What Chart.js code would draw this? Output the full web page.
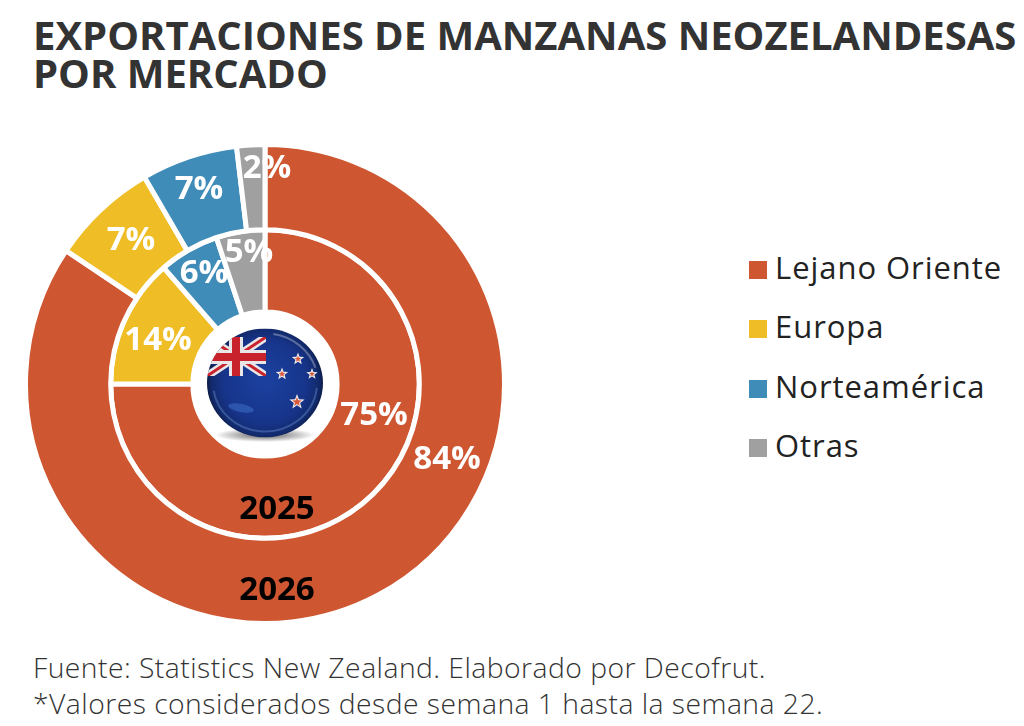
<!DOCTYPE html>
<html lang="es">
<head>
<meta charset="utf-8">
<script src="https://cdn.jsdelivr.net/npm/chart.js@4"></script>
<style>
  html, body { margin: 0; padding: 0; background: #fff; }
  body { width: 1024px; height: 726px; position: relative; overflow: hidden; font-family: "Open Sans", sans-serif; }
  h1 { position: absolute; left: 33px; top: 16px; margin: 0; font-size: 40px; line-height: 37.5px; font-weight: 700; color: #333; white-space: nowrap; }
  #wrap { position: absolute; left: 25px; top: 144px; width: 480px; height: 480px; }
  #leg { position: absolute; left: 749px; top: 238px; }
  #leg div { height: 59.3px; line-height: 59.3px; font-size: 31px; color: #222; white-space: nowrap; letter-spacing: .95px; }
  #leg i { display: inline-block; width: 18px; height: 18px; margin-right: 8px; }
  #src { position: absolute; left: 33px; top: 650px; font-size: 28.3px; line-height: 35.5px; font-weight: 300; letter-spacing: .46px; color: #333; white-space: nowrap; }
</style>
</head>
<body>
<h1>EXPORTACIONES DE MANZANAS NEOZELANDESAS<br>POR MERCADO</h1>
<div id="wrap"><canvas id="c" width="480" height="480"></canvas></div>
<div id="leg"></div>
<div id="src">Fuente: Statistics New Zealand. Elaborado por Decofrut.<br>*Valores considerados desde semana 1 hasta la semana 22.</div>
<script>
const markets = ['Lejano Oriente', 'Europa', 'Norteamérica', 'Otras'];
// slices, the printed labels are these rounded
const y2026 = [84.4, 7.2, 6.5, 1.9];
const y2025 = [75, 13.6, 6.3, 5.1];
const colors = ['#CE5630', '#EFBE26', '#3F8CB8', '#A0A0A0'];

// label spots, px from the doughnut centre (same order as the data)
const spots2026 = [[182, 76], [-134, -143], [-66, -194], [2, -215]];
const spots2025 = [[109, 32], [-107, -43], [-61, -110], [-16, -131]];

document.getElementById('leg').innerHTML = markets.map((m, i) =>
  `<div><i style="background:${colors[i]}"></i>${m}</div>`).join('');

function star(ctx, x, y, r) {
  const path = (rad) => {
    ctx.beginPath();
    for (let i = 0; i < 10; i++) {
      const a = -Math.PI / 2 + i * Math.PI / 5;
      const k = i % 2 ? rad * 0.42 : rad;
      ctx.lineTo(x + Math.cos(a) * k, y + Math.sin(a) * k);
    }
    ctx.closePath();
  };
  path(r + 2); ctx.fillStyle = '#f1efec'; ctx.fill();
  path(r - 1); ctx.fillStyle = '#d8583c'; ctx.fill();
}

function drawFlag(ctx, cx, cy) {
  const rx = 58, ry = 54.5;
  ctx.save();
  // shadow under the ball
  const sh = ctx.createRadialGradient(0, 0, 2, 0, 0, 50);
  sh.addColorStop(0, 'rgba(40,40,40,.75)');
  sh.addColorStop(1, 'rgba(40,40,40,0)');
  ctx.save();
  ctx.translate(cx, cy + 52);
  ctx.scale(1, 0.14);
  ctx.fillStyle = sh;
  ctx.beginPath(); ctx.arc(0, 0, 50, 0, Math.PI * 2); ctx.fill();
  ctx.restore();

  ctx.beginPath();
  ctx.ellipse(cx, cy, rx, ry, 0, 0, Math.PI * 2);
  ctx.clip();
  const g = ctx.createRadialGradient(cx, cy - 5, 8, cx, cy, 60);
  g.addColorStop(0, '#1a3f9c');
  g.addColorStop(0.65, '#17348a');
  g.addColorStop(0.88, '#122a6c');
  g.addColorStop(1, '#0a1636');
  ctx.fillStyle = g;
  ctx.fillRect(cx - rx, cy - ry, rx * 2, ry * 2);

  // union jack
  const x0 = cx - 58, x1 = cx + 1, y0 = cy - 46, y1 = cy - 7;
  ctx.save();
  ctx.beginPath(); ctx.rect(x0, y0, x1 - x0, y1 - y0); ctx.clip();
  const line = (c, w, a, b, d, e) => {
    ctx.strokeStyle = c; ctx.lineWidth = w;
    ctx.beginPath(); ctx.moveTo(a, b); ctx.lineTo(d, e); ctx.stroke();
  };
  line('#e8e6e6', 8, x0, y0, x1, y1);
  line('#e8e6e6', 8, x0, y1, x1, y0);
  line('#c8232c', 3, x0, y0, x1, y1);
  line('#c8232c', 3, x0, y1, x1, y0);
  const mx = cx - 29, my = cy - 26;
  line('#e8e6e6', 14, mx, y0, mx, y1);
  line('#e8e6e6', 14, x0, my, x1, my);
  line('#c8232c', 8, mx, y0, mx, y1);
  line('#c8232c', 8, x0, my, x1, my);
  ctx.restore();

  star(ctx, cx + 33, cy - 24, 4.5);
  star(ctx, cx + 17, cy - 9, 4.5);
  star(ctx, cx + 47, cy - 9, 4);
  star(ctx, cx + 32, cy + 19, 6);

  // glass rim and highlights
  ctx.strokeStyle = 'rgba(110,150,215,.4)';
  ctx.lineWidth = 2;
  ctx.beginPath(); ctx.ellipse(cx, cy, rx - 6, ry - 6, 0, 0.1, Math.PI * 0.95); ctx.stroke();
  ctx.strokeStyle = 'rgba(255,255,255,.3)';
  ctx.beginPath(); ctx.ellipse(cx, cy, rx - 5, ry - 5, 0, -Math.PI * 0.45, -Math.PI * 0.1); ctx.stroke();
  ctx.fillStyle = 'rgba(70,125,215,.45)';
  ctx.beginPath(); ctx.ellipse(cx - 24, cy + 25, 13, 4, 0.2, 0, Math.PI * 2); ctx.fill();
  ctx.restore();
}

const overlay = {
  id: 'overlay',
  afterDraw(chart) {
    const { ctx } = chart;
    const arc = chart.getDatasetMeta(0).data[0];
    const cx = arc.x, cy = arc.y;
    ctx.save();
    ctx.textAlign = 'center';
    ctx.textBaseline = 'middle';
    ctx.font = '700 33px "Open Sans"';
    ctx.fillStyle = '#fff';
    y2026.forEach((v, i) => ctx.fillText(Math.round(v) + '%', cx + spots2026[i][0], cy + spots2026[i][1]));
    y2025.forEach((v, i) => ctx.fillText(Math.round(v) + '%', cx + spots2025[i][0], cy + spots2025[i][1]));
    ctx.fillStyle = '#000';
    ctx.fillText('2025', cx + 12, cy + 126);
    ctx.fillText('2026', cx + 12, cy + 207);
    ctx.restore();
    drawFlag(ctx, cx, cy - 1);
  }
};

new Chart(document.getElementById('c').getContext('2d'), {
  type: 'doughnut',
  data: {
    labels: markets,
    datasets: [
      { label: '2026', data: y2026, backgroundColor: colors, borderColor: '#fff', borderWidth: 5, weight: 85.5 },
      { label: '2025', data: y2025, backgroundColor: colors, borderColor: '#fff', borderWidth: 5, weight: 82.5 }
    ]
  },
  options: {
    responsive: false,
    animation: false,
    radius: 239.5,
    cutout: 71.5,
    layout: { padding: 0 },
    plugins: { legend: { display: false }, tooltip: { enabled: false } }
  },
  plugins: [overlay]
});
</script>
</body>
</html>
